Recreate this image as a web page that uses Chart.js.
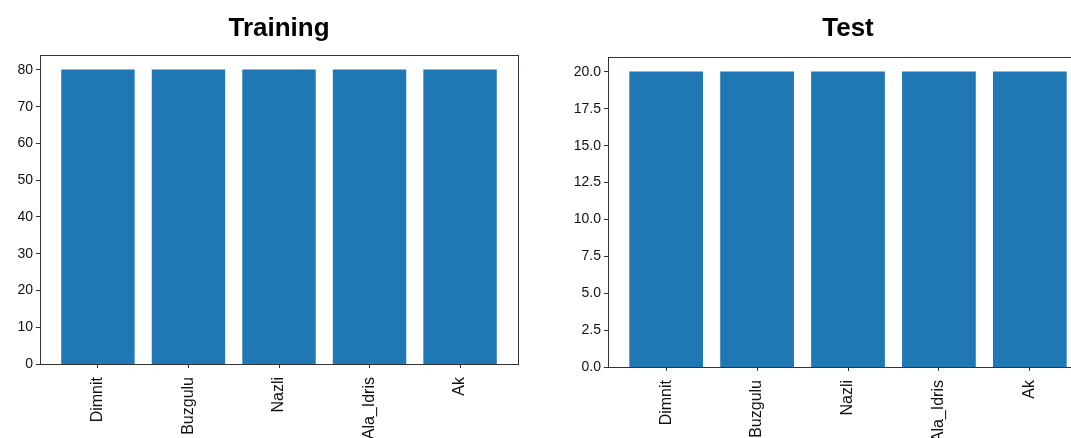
<!DOCTYPE html>
<html>
<head>
<meta charset="utf-8">
<script src="https://cdn.jsdelivr.net/npm/chart.js@4/dist/chart.umd.min.js"></script>
<style>
  html, body { margin: 0; padding: 0; background: #fff; overflow: hidden; }
  body { width: 1071px; height: 438px; position: relative; }
  .panel { position: absolute; top: 0; height: 438px; }
</style>
</head>
<body>
<div class="panel" style="left:0;width:540px"><canvas id="training"></canvas></div>
<div class="panel" style="left:540px;width:560px"><canvas id="test"></canvas></div>
<script>
const categories = ['Dimnit', 'Buzgulu', 'Nazli', 'Ala_Idris', 'Ak'];
const trainingCounts = [80, 80, 80, 80, 80];
const testCounts = [20, 20, 20, 20, 20];
const trainingTicks = [0, 10, 20, 30, 40, 50, 60, 70, 80];
const testTicks = [0, 2.5, 5, 7.5, 10, 12.5, 15, 17.5, 20];

Chart.defaults.font.family = "'Liberation Sans', Arial, sans-serif";
Chart.defaults.color = '#111';

const barColor = '#1f77b4';
const axisColor = '#333';

// matplotlib style box around the plot area
const framePlugin = {
  id: 'frame',
  afterDraw(chart) {
    const { ctx, chartArea: a } = chart;
    ctx.save();
    ctx.strokeStyle = axisColor;
    ctx.lineWidth = 1;
    ctx.strokeRect(Math.round(a.left) + 0.5, Math.round(a.top) + 0.5,
      Math.round(a.right - a.left), Math.round(a.bottom - a.top));
    ctx.restore();
  }
};

function makeChart(id, title, values, ticks, yMax, decimals, lay) {
  const pad = 0.64;
  return new Chart(document.getElementById(id), {
    type: 'bar',
    data: {
      datasets: [{
        data: values.map((v, i) => ({ x: i, y: v })),
        backgroundColor: barColor,
        borderWidth: 0,
        inflateAmount: 0.5,
        categoryPercentage: 1,
        barPercentage: 0.8
      }]
    },
    options: {
      animation: false,
      responsive: true,
      maintainAspectRatio: false,
      layout: { padding: { left: 0, right: lay.padRight, top: 0, bottom: 0 } },
      plugins: {
        legend: { display: false },
        tooltip: { enabled: false },
        title: {
          display: true,
          fullSize: false,
          text: title,
          color: '#000',
          font: { size: 26, weight: 'bold' },
          padding: { top: 13, bottom: lay.titleBottom }
        }
      },
      scales: {
        x: {
          type: 'linear',
          offset: false,
          min: -pad,
          max: categories.length - 1 + pad,
          afterBuildTicks: (s) => { s.ticks = categories.map((c, i) => ({ value: i })); },
          afterFit: (s) => { s.height = lay.xAxisHeight; },
          grid: { offset: false, drawOnChartArea: false, drawTicks: true, tickLength: 4, color: axisColor },
          border: { display: false },
          ticks: {
            autoSkip: false,
            minRotation: 90,
            maxRotation: 90,
            padding: 9,
            font: { size: 16 },
            callback: (v) => categories[v]
          }
        },
        y: {
          min: 0,
          max: yMax,
          afterBuildTicks: (s) => { s.ticks = ticks.map(v => ({ value: v })); },
          afterFit: (s) => { s.width = lay.yAxisWidth; },
          grid: { drawOnChartArea: false, drawTicks: true, tickLength: 4, color: axisColor },
          border: { display: false },
          ticks: {
            padding: 3,
            font: { size: 14 },
            callback: (v) => Number(v).toFixed(decimals)
          }
        }
      }
    },
    plugins: [framePlugin]
  });
}

makeChart('training', 'Training', trainingCounts, trainingTicks, 84, 0,
  { padRight: 22, yAxisWidth: 40, xAxisHeight: 74, titleBottom: 11 });
makeChart('test', 'Test', testCounts, testTicks, 21, 1,
  { padRight: 12, yAxisWidth: 68, xAxisHeight: 71, titleBottom: 13 });
</script>
</body>
</html>
